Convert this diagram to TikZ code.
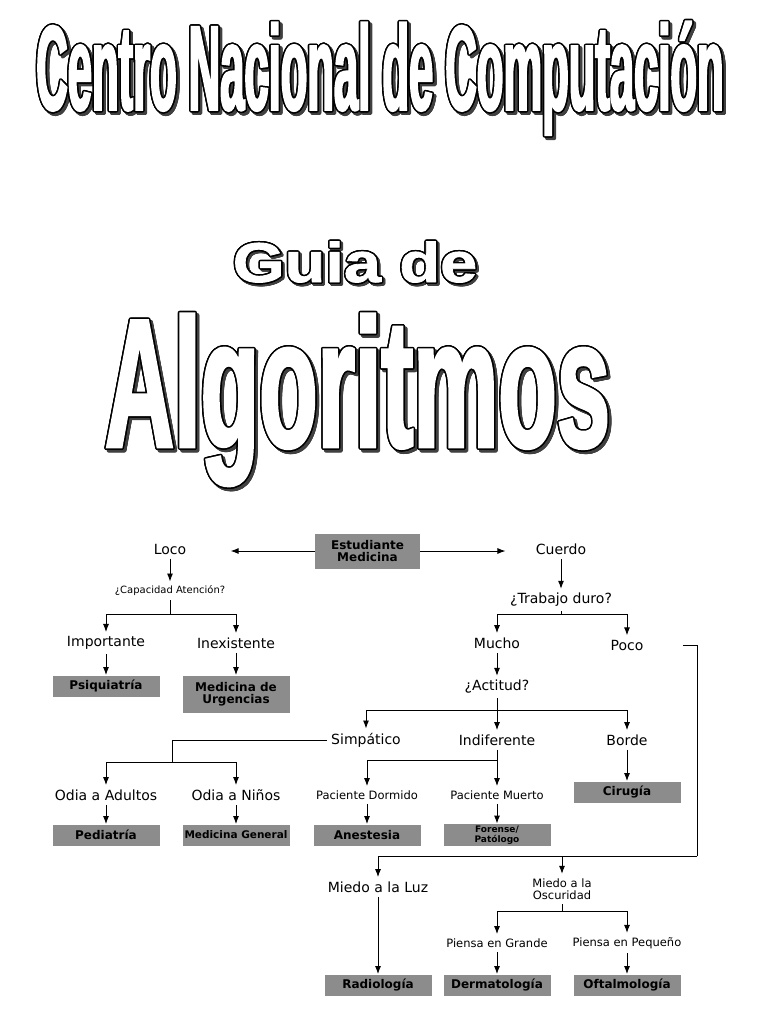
\documentclass[tikz,border=0pt]{standalone}
\usepackage{fontspec}
\setmainfont{DejaVu Sans}
\newfontfamily\titelfont[FakeStretch=0.36, FakeBold=1.5]{Liberation Sans}
\newfontfamily\guiafont[FakeStretch=1.19, FakeBold=1.5]{Liberation Sans}
\newfontfamily\algofont[FakeStretch=0.52, FakeBold=1.5]{Liberation Sans}
\usepackage{contour}
\contourlength{1.5pt}
\usetikzlibrary{arrows.meta}

\begin{document}
\begin{tikzpicture}[x=1pt, y=-1pt,
	>={Latex[length=8pt,width=6pt]},   %Pfeilspitzen
	line width=0.9pt,
	lbl/.style={font=\fontsize{14}{16}\selectfont, inner sep=4pt},
	klein/.style={font=\fontsize{11.5}{12.5}\selectfont, inner sep=4pt, align=center},
	mini/.style={font=\fontsize{10}{12}\selectfont, inner sep=4pt},
	feld/.style={fill=black!45, font=\bfseries\fontsize{12}{12.5}\selectfont, minimum width=107pt, minimum height=21pt, inner sep=1pt, align=center},
	schatten/.style={anchor=base, text=black!75},
	umriss/.style={anchor=base, text=white}]
	%Seite
	\fill[white] (0,0) rectangle (768,1024);
	\useasboundingbox (0,0) rectangle (768,1024);
	%Titel
	\node[schatten, font=\titelfont\bfseries\fontsize{121}{130}\selectfont] at (382.5,112.5) {\contour{black!75}{Centro Nacional de Computación}};
	\node[umriss, font=\titelfont\bfseries\fontsize{121}{130}\selectfont] (titel) at (380,110) {\contour{black}{Centro Nacional de Computación}};
	\node[schatten, font=\guiafont\bfseries\fontsize{56}{60}\selectfont] at (357,284) {\contour{black!75}{Guia de}};
	\node[umriss, font=\guiafont\bfseries\fontsize{56}{60}\selectfont] (guia) at (355,282) {\contour{black}{Guia de}};
	\node[schatten, font=\algofont\bfseries\fontsize{184}{190}\selectfont] at (360,449.5) {\contour{black!75}{Algoritmos}};
	\node[umriss, font=\algofont\bfseries\fontsize{184}{190}\selectfont] (algo) at (357.5,447) {\contour{black}{Algoritmos}};
	%Knoten
	\node[feld, minimum width=105pt, minimum height=35pt] (est) at (367.5,551) {Estudiante\\Medicina};
	\node[lbl] (loco) at (170,549) {Loco};
	\node[lbl] (cuerdo) at (561,549) {Cuerdo};
	\node[mini] (cap) at (170,591) {¿Capacidad Atención?};
	\node[lbl] (imp) at (106,643) {Importante};
	\node[lbl] (inex) at (236,643) {Inexistente};
	\node[feld] (psiq) at (106,686) {Psiquiatría};
	\node[feld, minimum height=37pt] (urg) at (236,694) {Medicina de\\Urgencias};
	\node[lbl] (trab) at (561,600) {¿Trabajo duro?};
	\node[lbl] (mucho) at (497,643) {Mucho};
	\node[lbl] (poco) at (627,645) {Poco};
	\node[lbl] (act) at (497,687) {¿Actitud?};
	\node[lbl] (simp) at (366,740) {Simpático};
	\node[lbl] (indif) at (497,740) {Indiferente};
	\node[lbl] (borde) at (627,740) {Borde};
	\node[lbl] (adult) at (106,795) {Odia a Adultos};
	\node[lbl] (ninos) at (236,795) {Odia a Niños};
	\node[klein] (dorm) at (367,795) {Paciente Dormido};
	\node[klein] (muerto) at (497,795) {Paciente Muerto};
	\node[feld] (ped) at (106,835) {Pediatría};
	\node[feld, font=\bfseries\fontsize{10.5}{12}\selectfont] (medgen) at (236,835) {Medicina General};
	\node[feld] (anest) at (367,835) {Anestesia};
	\node[feld, font=\bfseries\fontsize{9}{9.5}\selectfont, minimum height=22pt] (forense) at (497,835) {Forense/\\Patólogo};
	\node[feld] (cirugia) at (627,792) {Cirugía};
	\node[lbl] (luz) at (378,887) {Miedo a la Luz};
	\node[klein] (osc) at (562,889) {Miedo a la\\Oscuridad};
	\node[klein] (grande) at (497,943) {Piensa en Grande};
	\node[klein] (peq) at (627,943) {Piensa en Pequeño};
	\node[feld] (radio) at (378,985) {Radiología};
	\node[feld] (derma) at (497,985) {Dermatología};
	\node[feld] (oftal) at (627,985) {Oftalmología};
	%Verzweigungspunkte
	\coordinate (capbus) at (170,614);
	\coordinate (trabbus) at (561,614);
	\coordinate (actbus) at (497,710);
	\coordinate (simpbus) at (172,762);
	\coordinate (indbus) at (497,760);
	\coordinate (rbus) at (697,856);
	\coordinate (oscjoin) at (562,856);
	\coordinate (oscbus) at (562,911);
	%Pfeile
	\draw[->, shorten >=40pt] (est) -- (est -| loco.east);
	\draw[->, shorten >=26pt] (est) -- (est -| cuerdo.west);
	\foreach \a/\b in {loco/cap, cuerdo/trab, mucho/act, imp/psiq, inex/urg, adult/ped, ninos/medgen, dorm/anest, muerto/forense, borde/cirugia, luz/radio, grande/derma, peq/oftal}
		\draw[->] (\a) -- (\b);
	%Verzweigungen
	\draw (cap) -- (capbus);
	\draw[->] (capbus) -| (imp);
	\draw[->] (capbus) -| (inex);
	\draw (trab) -- (trabbus);
	\draw[->] (trabbus) -| (mucho);
	\draw[->] (trabbus) -| (poco);
	\draw (act) -- (actbus);
	\draw[->] (actbus) -| (simp);
	\draw[->] (actbus) -- (indif);
	\draw[->] (actbus) -| (borde);
	\draw (simp) -| (simpbus);
	\draw[->] (simpbus) -| (adult);
	\draw[->] (simpbus) -| (ninos);
	\draw (indif) -- (indbus);
	\draw[->] (indbus) -| (dorm);
	\draw[->] (indbus) -- (muerto);
	\draw[shorten <=35pt] (poco) -| (rbus);
	\draw[->] (rbus) -| (luz);
	\draw[->] (oscjoin) -- (osc);
	\draw (osc) -- (oscbus);
	\draw[->] (oscbus) -| (grande);
	\draw[->] (oscbus) -| (peq);
\end{tikzpicture}
\end{document}
